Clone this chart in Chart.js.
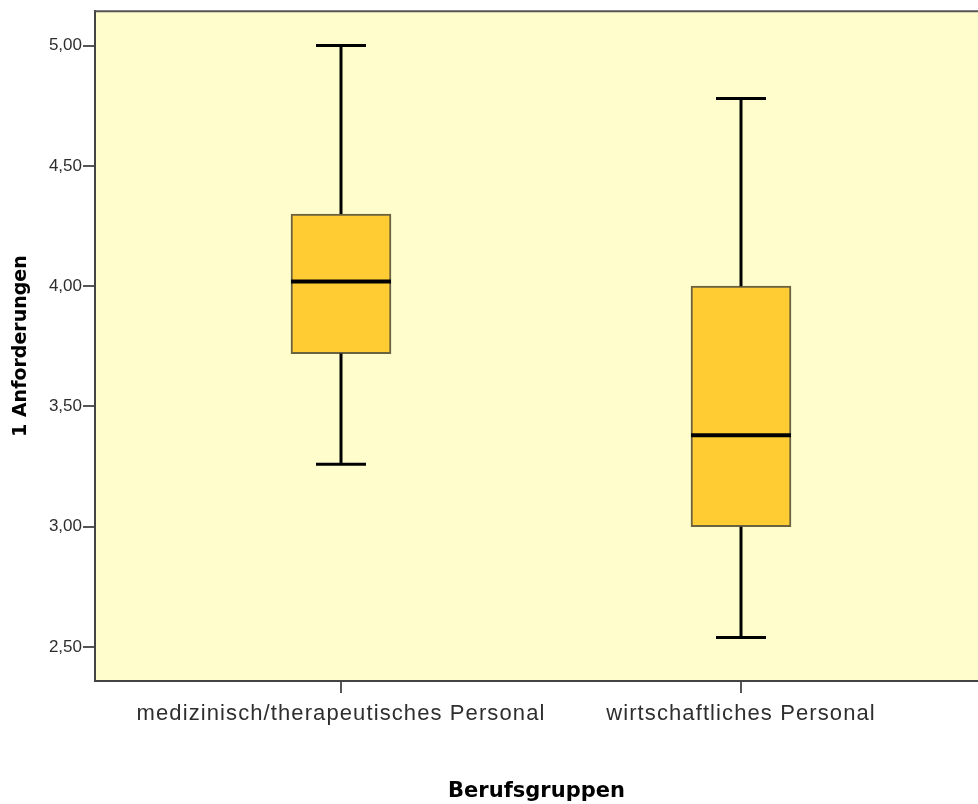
<!DOCTYPE html>
<html>
<head>
<meta charset="utf-8">
<script src="https://cdn.jsdelivr.net/npm/chart.js@4"></script>
<style>
  html, body { margin: 0; padding: 0; background: #fff; }
  canvas { display: block; }
</style>
</head>
<body>
<canvas id="boxChart" width="978" height="804"></canvas>
<script>
// Boxplot-Werte
const categories = ['medizinisch/therapeutisches Personal', 'wirtschaftliches Personal'];
const minValues = [3.26, 2.54];
const q1Values = [3.72, 3.00];
const medianValues = [4.02, 3.38];
const q3Values = [4.30, 4.00];
const maxValues = [5.00, 4.78];
const yTicks = [2.5, 3.0, 3.5, 4.0, 4.5, 5.0];

const boxData = categories.map((c, i) => ({ x: i, y: [q1Values[i], q3Values[i]] }));

// Hintergrund + oberer Rahmen
const plotArea = {
    id: 'plotArea',
    beforeDraw(chart) {
        const { ctx, chartArea: a } = chart;
        ctx.save();
        ctx.fillStyle = '#FFFDCC';
        ctx.fillRect(a.left, a.top, a.right - a.left, a.bottom - a.top);
        ctx.restore();
    },
    afterDraw(chart) {
        const { ctx, chartArea: a } = chart;
        ctx.save();
        ctx.strokeStyle = '#555';
        ctx.lineWidth = 2;
        ctx.beginPath();
        ctx.moveTo(a.left, a.top);
        ctx.lineTo(a.right, a.top);
        ctx.stroke();
        ctx.restore();
    }
};

// Whisker, Querstriche und Median
const whiskers = {
    id: 'whiskers',
    afterDatasetsDraw(chart) {
        const { ctx, scales } = chart;
        const x = scales.x, y = scales.y;
        ctx.save();
        ctx.strokeStyle = '#000';
        for (let i = 0; i < categories.length; i++) {
            const cx = x.getPixelForValue(i);
            const capHalf = 25;
            const boxHalf = 50;
            ctx.lineWidth = 3;
            ctx.beginPath();
            ctx.moveTo(cx, y.getPixelForValue(q3Values[i]));
            ctx.lineTo(cx, y.getPixelForValue(maxValues[i]));
            ctx.moveTo(cx, y.getPixelForValue(q1Values[i]));
            ctx.lineTo(cx, y.getPixelForValue(minValues[i]));
            ctx.moveTo(cx - capHalf, y.getPixelForValue(maxValues[i]));
            ctx.lineTo(cx + capHalf, y.getPixelForValue(maxValues[i]));
            ctx.moveTo(cx - capHalf, y.getPixelForValue(minValues[i]));
            ctx.lineTo(cx + capHalf, y.getPixelForValue(minValues[i]));
            ctx.stroke();
            ctx.lineWidth = 4;
            ctx.beginPath();
            ctx.moveTo(cx - boxHalf, y.getPixelForValue(medianValues[i]));
            ctx.lineTo(cx + boxHalf, y.getPixelForValue(medianValues[i]));
            ctx.stroke();
        }
        ctx.restore();
    }
};

// breitere Laufweite fuer die Kategorienbeschriftung
function spacedLabels(scale) {
    if (scale._spaced) return;
    scale._spaced = true;
    const orig = scale.drawLabels.bind(scale);
    scale.drawLabels = function (area) {
        this.ctx.save();
        this.ctx.letterSpacing = '1.1px';
        orig(area);
        this.ctx.restore();
    };
}

new Chart(document.getElementById('boxChart').getContext('2d'), {
    type: 'bar',
    data: {
        datasets: [{
            data: boxData,
            backgroundColor: '#FFCC33',
            borderColor: '#6b6240',
            borderWidth: 2,
            borderSkipped: false,
            barThickness: 100
        }]
    },
    options: {
        responsive: false,
        animation: false,
        layout: { padding: { top: 11, right: 0, bottom: 0, left: 0 } },
        plugins: {
            legend: { display: false },
            tooltip: { enabled: false }
        },
        scales: {
            x: {
                type: 'linear',
                offset: false,
                min: -0.615,
                max: 1.5925,
                afterBuildTicks(scale) {
                    scale.ticks = categories.map((c, i) => ({ value: i }));
                },
                afterFit(scale) {
                    scale.height = 123;
                    spacedLabels(scale);
                },
                grid: { offset: false, drawOnChartArea: false, tickLength: 12, color: '#555', lineWidth: 2 },
                border: { color: '#444', width: 2 },
                ticks: {
                    autoSkip: false,
                    maxRotation: 0,
                    padding: 8,
                    color: '#2e2e2e',
                    font: { family: 'Liberation Sans, Arial, sans-serif', size: 22 },
                    callback: (v) => categories[v]
                },
                title: {
                    display: true,
                    text: 'Berufsgruppen',
                    color: '#000',
                    font: { family: 'DejaVu Sans', size: 21, weight: 'bold' },
                    padding: { top: 0, bottom: 0 }
                }
            },
            y: {
                min: 2.359,
                max: 5.143,
                afterBuildTicks(scale) {
                    scale.ticks = yTicks.map(v => ({ value: v }));
                },
                afterFit(scale) { scale.width = 95; },
                grid: { drawOnChartArea: false, tickLength: 12, color: '#555', lineWidth: 2 },
                border: { color: '#444', width: 2 },
                ticks: {
                    padding: 1,
                    color: '#2e2e2e',
                    font: { family: 'Liberation Sans, Arial, sans-serif', size: 17 },
                    callback: (v) => v.toFixed(2).replace('.', ',')
                },
                title: {
                    display: true,
                    text: '1 Anforderungen',
                    color: '#000',
                    font: { family: 'DejaVu Sans', size: 19, weight: 'bold' },
                    padding: { top: 10, bottom: 0 }
                }
            }
        }
    },
    plugins: [plotArea, whiskers]
});
</script>
</body>
</html>
